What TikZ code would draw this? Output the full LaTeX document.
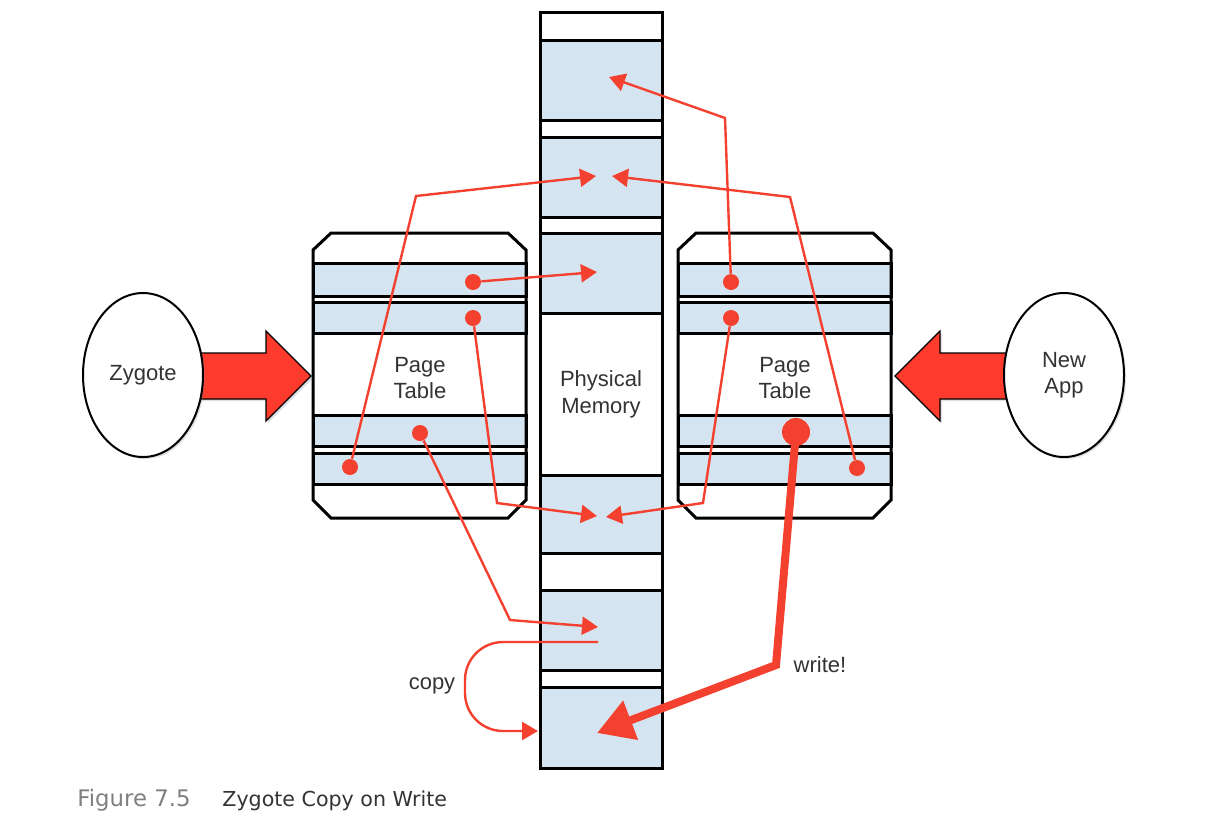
\documentclass[tikz,border=0pt]{standalone}
\usepackage{fontspec}
\setmainfont{Liberation Sans}
\newfontfamily\capfont{DejaVu Sans}
\usetikzlibrary{shapes.geometric, arrows.meta, shadows}
\definecolor{cowred}{HTML}{FF3B2E}
\definecolor{cowline}{HTML}{F4412F}
\definecolor{pageblue}{HTML}{D5E4F1}
\definecolor{labelgray}{HTML}{333333}
\definecolor{figgray}{HTML}{7F7F7F}
\tikzstyle{process} = [ellipse, draw=black, line width=1pt, fill=white,
minimum width=60pt, minimum height=82pt, align=center, text=labelgray,
drop shadow={opacity=0.25, shadow xshift=1pt, shadow yshift=-1pt}]
\tikzstyle{memcell} = [draw=black, line width=1.5pt]
\tikzstyle{pagerow} = [draw=black, line width=1.5pt, fill=pageblue]
\tikzstyle{tableframe} = [draw=black, line width=1.5pt, line join=miter]
\tikzstyle{boxtext} = [align=center, text=labelgray, inner sep=1pt]
\tikzstyle{dot} = [circle, fill=cowline, inner sep=0pt, minimum size=8pt]
\tikzstyle{bigdot} = [circle, fill=cowline, inner sep=0pt, minimum size=14pt]
\tikzstyle{pointer} = [cowline, line width=1.2pt, -{Triangle[length=8pt,width=9pt]}]
\tikzstyle{writeptr} = [cowline, line width=4pt, -{Triangle[length=18pt,width=20pt]}]
\tikzstyle{fatarrow} = [draw=black, line width=0.6pt, fill=cowred, line join=miter,
drop shadow={opacity=0.25, shadow xshift=1pt, shadow yshift=-1pt}]

\begin{document}
\begin{tikzpicture}[x=0.5pt, y=-0.5pt, every node/.style={font=\fontsize{11}{13.3}\selectfont}]
				\useasboundingbox (0,0) rectangle (1209,821);
				\foreach \ya/\yb/\fc in {12/40/white, 40/120/pageblue, 120/137/white, 137/217/pageblue,
					217/233/white, 233/313/pageblue, 313/475/white, 475/553/pageblue,
					553/590/white, 590/670/pageblue, 670/687/white, 687/768/pageblue}
					\draw[memcell, fill=\fc] (540,\ya) rectangle (662,\yb);
				\node (mem) at (601,394) [boxtext] {Physical\\Memory};
				\foreach \tx in {313,678} {
					\fill[white] (\tx,250) -- (\tx+18,233) -- (\tx+195,233) -- (\tx+213,250)
						-- (\tx+213,500) -- (\tx+195,518) -- (\tx+18,518) -- (\tx,500) -- cycle;
					\foreach \ya/\yb in {263/296, 302/333, 415/446, 453/484}
						\draw[pagerow] (\tx,\ya) rectangle (\tx+213,\yb);
					\draw[tableframe] (\tx,250) -- (\tx+18,233) -- (\tx+195,233) -- (\tx+213,250)
						-- (\tx+213,500) -- (\tx+195,518) -- (\tx+18,518) -- (\tx,500) -- cycle;
				}
				\node (ptl) at (420,378) [boxtext] {Page\\Table};
				\node (ptr) at (785,378) [boxtext] {Page\\Table};
				\coordinate (zin) at (311,376);
				\coordinate (ain) at (895,376);
				\draw[fatarrow] (zin) -- ++(-45,-45) -- ++(0,22) -- ++(-75,0) -- ++(0,46)
					-- ++(75,0) -- ++(0,22) -- cycle;
				\draw[fatarrow] (ain) -- ++(45,-45) -- ++(0,22) -- ++(75,0) -- ++(0,46)
					-- ++(-75,0) -- ++(0,22) -- cycle;
				\node (zygote) at (143,375) [process] {Zygote};
				\node (newapp) at (1064,375) [process] {New\\App};
				\coordinate (m1) at (609,77);
				\coordinate (m2l) at (596,176);
				\coordinate (m2r) at (612,176);
				\coordinate (m3) at (597,272);
				\coordinate (m4l) at (597,516);
				\coordinate (m4r) at (606,517);
				\coordinate (m5) at (598,627);
				\coordinate (m6) at (597,733);
				\coordinate (copysrc) at (598,642);
				\coordinate (copydst) at (538,731);
				\node (la) at (473,282) [dot] {};
				\node (lb) at (473,318) [dot] {};
				\node (lc) at (420,433) [dot] {};
				\node (ld) at (350,467) [dot] {};
				\node (ra) at (731,282) [dot] {};
				\node (rb) at (731,318) [dot] {};
				\node (rc) at (796,432) [bigdot] {};
				\node (rd) at (857,468) [dot] {};
				\draw[pointer] (la) -- (m3);
				\draw[pointer] (lb) -- (497,503) -- (m4l);
				\draw[pointer] (lc) -- (510,620) -- (m5);
				\draw[pointer] (ld) -- (416,196) -- (m2l);
				\draw[pointer] (ra) -- (725,118) -- (m1);
				\draw[pointer] (rb) -- (703,503) -- (m4r);
				\draw[pointer] (rd) -- (790,197) -- (m2r);
				\draw[writeptr] (rc.center) -- (776,665) -- (m6);
				\draw[pointer, rounded corners=19pt] (copysrc) -- (465,642) -- (465,731) -- (copydst);
				\node (cp) at (432,686) [boxtext] {copy};
				\node (wr) at (820,665) [boxtext] {write!};
				\node (figno) at (77,806) [anchor=base west, inner sep=0pt, text=figgray,
					font=\capfont\fontsize{11.4}{13}\selectfont] {Figure 7.5};
				\node (figtitle) at (222,806) [anchor=base west, inner sep=0pt, text=labelgray,
					font=\capfont\fontsize{10.3}{13}\selectfont] {Zygote Copy on Write};
				\end{tikzpicture}
\end{document}
